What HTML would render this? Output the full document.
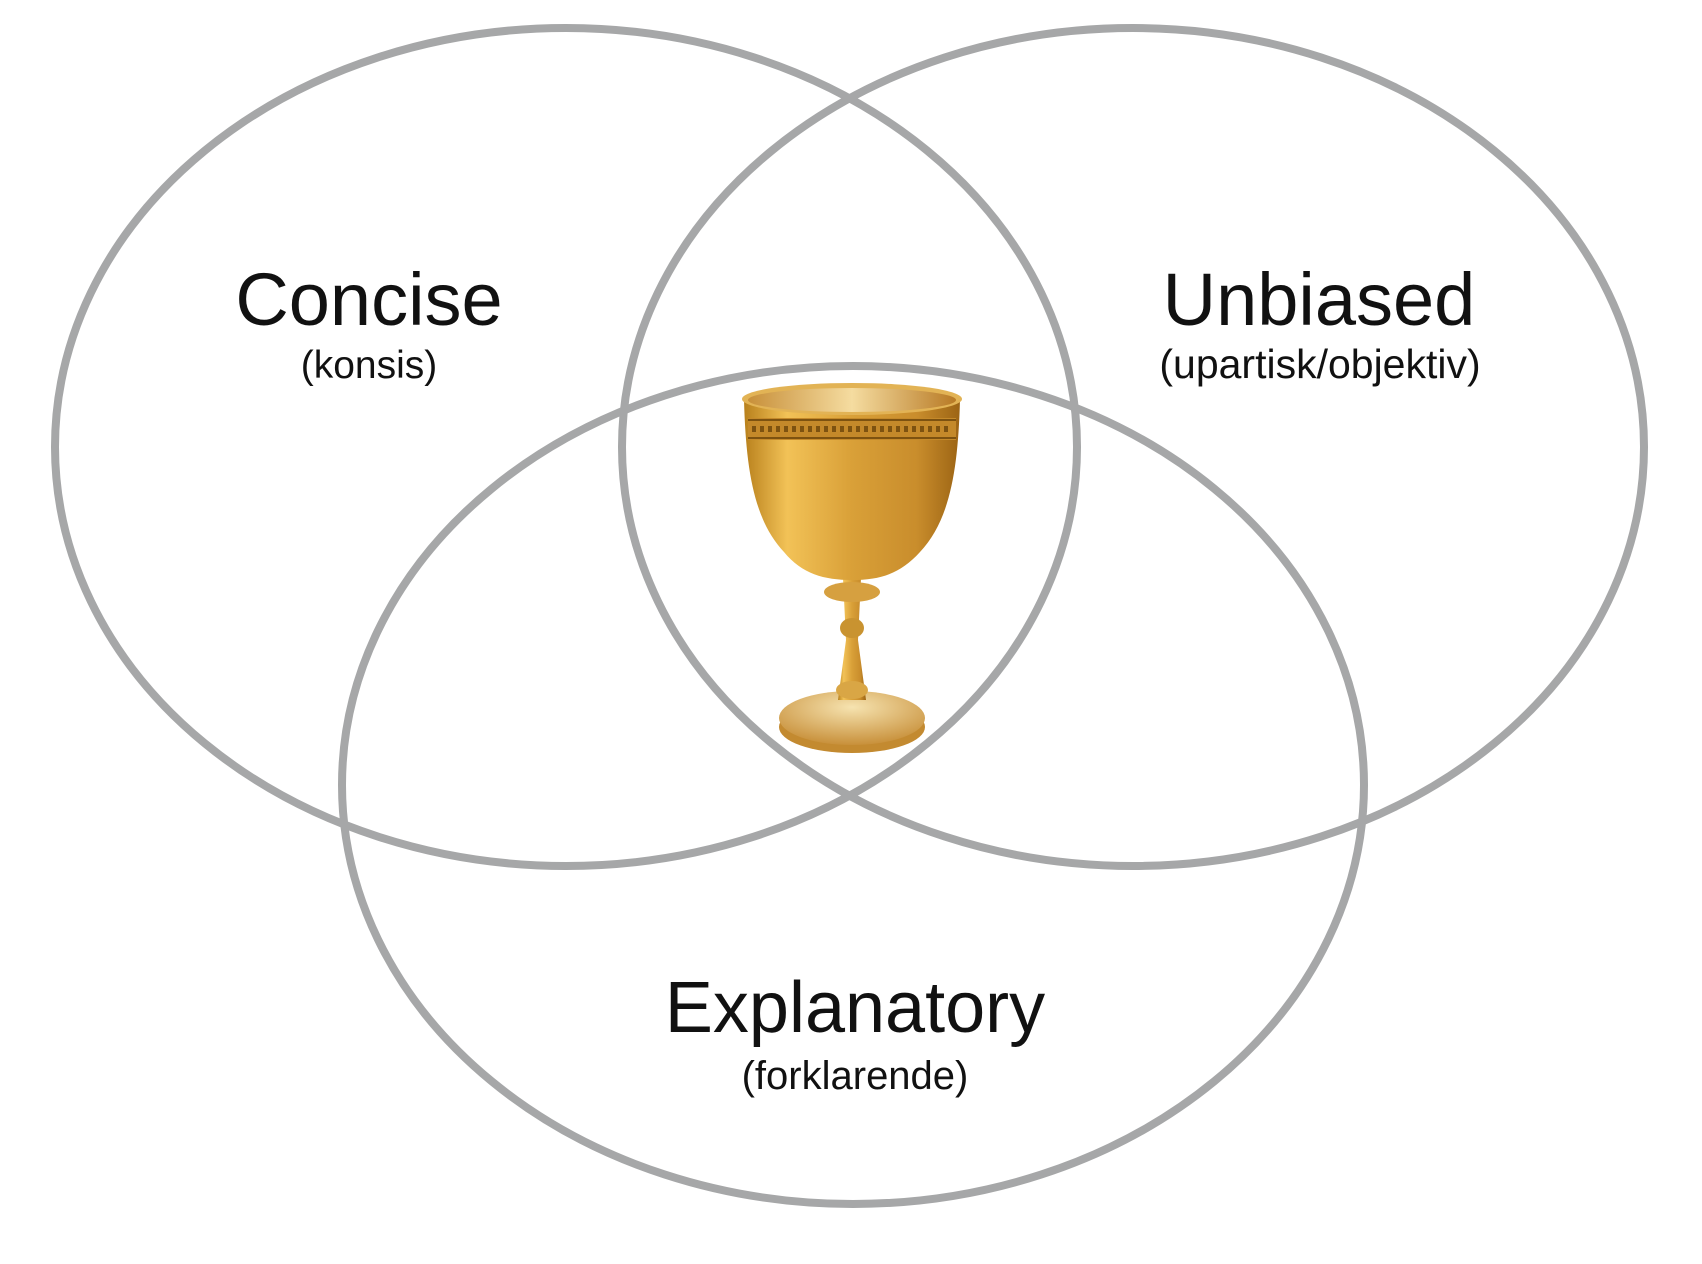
<!DOCTYPE html>
<html><head><style>
html,body{margin:0;padding:0;background:#fff;width:1702px;height:1264px;overflow:hidden}
svg{display:block}
text{font-family:"Liberation Sans",sans-serif;fill:#111}
</style></head><body>
<svg width="1702" height="1264" viewBox="0 0 1702 1264">
<defs>
<linearGradient id="g1" x1="0" x2="1" y1="0" y2="0">
<stop offset="0" stop-color="#b8801c"/><stop offset="0.2" stop-color="#f2c257"/><stop offset="0.5" stop-color="#d9a038"/><stop offset="0.8" stop-color="#c98d2c"/><stop offset="1" stop-color="#9c6414"/>
</linearGradient>
<linearGradient id="g2" x1="0" x2="1">
<stop offset="0" stop-color="#c8903a"/><stop offset="0.5" stop-color="#f5dca0"/><stop offset="1" stop-color="#b87a25"/>
</linearGradient>
<radialGradient id="g3" cx="0.5" cy="0.3" r="0.7">
<stop offset="0" stop-color="#f6e3b0"/><stop offset="1" stop-color="#c8903a"/>
</radialGradient>
</defs>
<g fill="none" stroke="#a6a7a8" stroke-width="8">
<ellipse cx="566" cy="447" rx="511" ry="419"/>
<ellipse cx="1133" cy="447" rx="511" ry="419"/>
<ellipse cx="853" cy="785" rx="511" ry="419"/>
</g>
<g>
<ellipse cx="852" cy="727" rx="73" ry="26" fill="#c38a30"/>
<ellipse cx="852" cy="718" rx="73" ry="27" fill="url(#g3)"/>
<path d="M843 578 L861 578 L858 640 L866 700 L838 700 L846 640 Z" fill="url(#g1)"/>
<ellipse cx="852" cy="592" rx="28" ry="10" fill="#d6a040"/>
<ellipse cx="852" cy="628" rx="12" ry="10" fill="#c99330"/>
<ellipse cx="852" cy="690" rx="16" ry="9" fill="#d9a645"/>
<path d="M744 400 L960 400 C958 470 950 520 920 552 C900 574 880 580 852 580 C824 580 802 574 784 552 C754 520 746 470 744 400 Z" fill="url(#g1)"/>
<rect x="748" y="418" width="208" height="22" fill="#c4892a"/>
<g stroke="#7d5210" stroke-width="2">
<line x1="748" y1="420" x2="956" y2="420"/><line x1="748" y1="438" x2="956" y2="438"/>
<line x1="752" y1="429" x2="952" y2="429" stroke-dasharray="4 4" stroke-width="6"/>
</g>
<ellipse cx="852" cy="399" rx="110" ry="16" fill="#e2b355"/>
<ellipse cx="852" cy="400" rx="104" ry="12" fill="url(#g2)"/>
</g>
<text x="369" y="325" font-size="74" text-anchor="middle">Concise</text>
<text x="369" y="378" font-size="39" text-anchor="middle">(konsis)</text>
<text x="1319" y="325" font-size="74" text-anchor="middle">Unbiased</text>
<text x="1320" y="378" font-size="41" text-anchor="middle">(upartisk/objektiv)</text>
<text x="855" y="1032" font-size="72" text-anchor="middle">Explanatory</text>
<text x="855" y="1089" font-size="40" text-anchor="middle">(forklarende)</text>
</svg>
</body></html>
